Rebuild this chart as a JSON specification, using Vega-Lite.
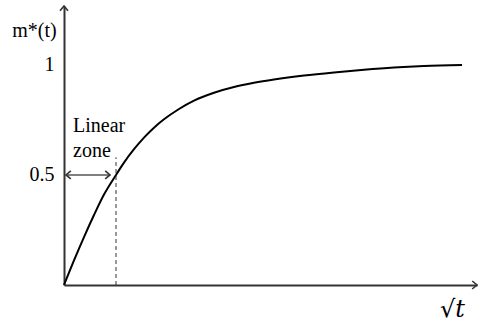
{
  "$schema": "https://vega.github.io/schema/vega-lite/v6.json",
  "width": 413,
  "height": 279,
  "autosize": "none",
  "padding": {"left": 64, "top": 6, "right": 10, "bottom": 41},
  "background": "white",
  "config": {"view": {"stroke": null}},
  "encoding": {
    "x": {"field": "x", "type": "quantitative",
      "scale": {"domain": [0, 4.13], "nice": false, "zero": false},
      "axis": {"domain": true, "domainColor": "#333", "domainWidth": 2, "ticks": false, "labels": false, "grid": false,
        "title": "√t", "titleX": 388, "titleY": 24, "titleFont": "DejaVu Serif", "titleFontSize": 24,
        "titleFontStyle": "italic", "titleFontWeight": "normal", "titleBaseline": "middle", "titleAlign": "center", "titleColor": "black"}},
    "y": {"field": "y", "type": "quantitative",
      "scale": {"domain": [0, 1.268], "nice": false, "zero": false},
      "axis": {"domain": true, "domainColor": "#333", "domainWidth": 2, "ticks": false, "grid": false, "values": [0.5, 1], "format": "~g",
        "labelFont": "Liberation Serif", "labelFontSize": 20, "labelColor": "black", "labelPadding": 10,
        "title": "m*(t)", "titleAngle": 0, "titleX": -30, "titleY": 24, "titleFont": "Liberation Serif", "titleFontSize": 20,
        "titleFontWeight": "normal", "titleAlign": "center", "titleBaseline": "middle", "titleColor": "black"}}
  },
  "layer": [
    {
      "data": {"values": [
        {"x": 0, "y": 0}, {"x": 0.1, "y": 0.112}, {"x": 0.2, "y": 0.218}, {"x": 0.3, "y": 0.318},
        {"x": 0.4, "y": 0.411}, {"x": 0.52, "y": 0.5}, {"x": 0.6, "y": 0.556}, {"x": 0.7, "y": 0.617},
        {"x": 0.8, "y": 0.67}, {"x": 0.9, "y": 0.715}, {"x": 1.0, "y": 0.753}, {"x": 1.15, "y": 0.8},
        {"x": 1.3, "y": 0.838}, {"x": 1.5, "y": 0.874}, {"x": 1.7, "y": 0.9}, {"x": 1.9, "y": 0.919},
        {"x": 2.1, "y": 0.934}, {"x": 2.4, "y": 0.952}, {"x": 2.7, "y": 0.966}, {"x": 3.0, "y": 0.978},
        {"x": 3.3, "y": 0.988}, {"x": 3.6, "y": 0.995}, {"x": 3.98, "y": 1.0}
      ]},
      "mark": {"type": "line", "color": "black", "strokeWidth": 2, "interpolate": "monotone"}
    },
    {
      "data": {"values": [{"x": 0.52, "y": 0, "y2": 0.58}]},
      "mark": {"type": "rule", "color": "#333", "strokeWidth": 1, "strokeDash": [4, 3]},
      "encoding": {"y2": {"field": "y2"}}
    },
    {
      "data": {"values": [{"x": 0.02, "y": 0.5, "x2": 0.46}]},
      "mark": {"type": "rule", "color": "#555", "strokeWidth": 1.5},
      "encoding": {"x2": {"field": "x2"}}
    },
    {
      "data": {"values": [
        {"x": 0.02, "y": 0.5, "dir": "left"}, {"x": 0.46, "y": 0.5, "dir": "right"},
        {"x": 4.13, "y": 0, "dir": "right"}, {"x": 0, "y": 1.268, "dir": "up"}
      ]},
      "mark": {"type": "point", "filled": false, "strokeWidth": 1.6, "size": 64, "color": "#333", "opacity": 1},
      "encoding": {
        "shape": {"field": "dir", "type": "nominal", "legend": null,
          "scale": {"domain": ["left", "right", "up"], "range": ["M 1.2 -1 L 0 0 L 1.2 1", "M -1.2 -1 L 0 0 L -1.2 1", "M -1 1.2 L 0 0 L 1 1.2"]}}
      }
    },
    {
      "data": {"values": [{"x": 0.09, "y": 0.695, "label": ["Linear", "zone"]}]},
      "mark": {"type": "text", "align": "left", "baseline": "alphabetic", "font": "Liberation Serif", "fontSize": 20, "lineHeight": 25, "color": "black"},
      "encoding": {"text": {"field": "label"}}
    }
  ]
}
